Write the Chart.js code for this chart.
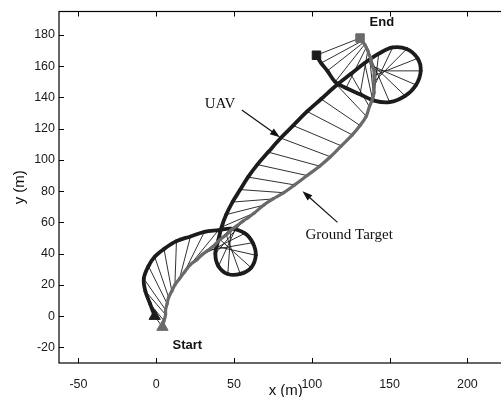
<!DOCTYPE html>
<html>
<head>
<meta charset="utf-8">
<script src="https://cdn.jsdelivr.net/npm/chart.js@4.4.0/dist/chart.umd.min.js"></script>
<style>
  html, body { margin: 0; padding: 0; background: #fff; overflow: hidden; }
  #wrap { width: 520px; height: 397px; }
</style>
</head>
<body>
<div id="wrap"><canvas id="chart" width="520" height="397"></canvas></div>
<script>
// UAV track (black) and ground target track (gray), sampled at the same instants
const uavX = [-1, -4, -7, -8, -5, -1, 5, 13, 22, 31, 40,
  48, 57, 62, 64, 61, 54, 46, 40, 38, 40, 42,
  45, 49, 54, 59, 65, 72, 80, 88, 97, 106, 116, 125, 134, 143,
  152, 161, 168, 170, 167, 160, 150, 140, 131, 122, 115, 110, 106, 103];
const uavY = [0, 8, 16, 24, 32, 38, 43, 48, 51, 54, 55,
  56, 53, 47, 39, 31, 27, 27, 32, 40, 49, 57,
  65, 73, 81, 89, 97, 105, 114, 122, 131, 139, 148, 155, 162, 168,
  172, 171, 165, 157, 148, 141, 137, 138, 142, 146, 150, 157, 162, 167];
const targetX = [4, 5, 6, 6, 7, 8, 10, 12, 15, 18, 22,
  26, 29, 33, 37, 41, 45, 48, 52, 56, 59, 63,
  69, 75, 82, 89, 97, 105, 112, 119, 126, 131, 135, 137, 139, 140,
  140, 140, 140, 140, 139, 138, 138, 137, 136, 135, 134, 133, 132, 131];
const targetY = [-7, -3, 1, 4, 8, 12, 16, 20, 24, 28, 33,
  36, 39, 42, 45, 49, 52, 55, 58, 61, 63, 66,
  71, 75, 79, 84, 90, 96, 102, 109, 116, 122, 128, 134, 139, 143,
  147, 150, 154, 157, 160, 162, 165, 167, 170, 172, 174, 175, 176, 178];

const xTicks = [-50, 0, 50, 100, 150, 200];
const yTicks = [-20, 0, 20, 40, 60, 80, 100, 120, 140, 160, 180];

// text callouts: [label, x, y]
const notes = [
  ['UAV', 41, 135.5],
  ['Ground Target', 124, 52],
];
const boldNotes = [
  ['End', 145, 188],
  ['Start', 20, -18.5],
];
// arrows: [fromX, fromY, toX, toY]
const arrows = [
  [55, 132, 79.5, 114.5],
  [116.5, 60, 94, 80],
];

const uavPts = uavX.map((x, i) => ({ x, y: uavY[i] }));
const tgtPts = targetX.map((x, i) => ({ x, y: targetY[i] }));
const links = [];
uavPts.forEach((p, i) => {
  links.push(p, tgtPts[i], { x: null, y: null });
});
const last = uavPts.length - 1;

const frame = {
  id: 'frame',
  afterDatasetsDraw(chart) {
    const { ctx, chartArea: a, scales } = chart;
    const xs = scales.x, ys = scales.y;
    ctx.save();
    ctx.strokeStyle = '#000';
    ctx.lineWidth = 1.2;
    ctx.strokeRect(a.left, a.top, a.right - a.left, a.bottom - a.top);
    ctx.beginPath();
    xTicks.forEach((v) => {
      const px = Math.round(xs.getPixelForValue(v)) + 0.5;
      ctx.moveTo(px, a.bottom); ctx.lineTo(px, a.bottom - 5);
      ctx.moveTo(px, a.top); ctx.lineTo(px, a.top + 5);
    });
    yTicks.forEach((v) => {
      const py = Math.round(ys.getPixelForValue(v)) + 0.5;
      ctx.moveTo(a.left, py); ctx.lineTo(a.left + 5, py);
      ctx.moveTo(a.right, py); ctx.lineTo(a.right - 5, py);
    });
    ctx.lineWidth = 1;
    ctx.stroke();

    // arrows
    ctx.strokeStyle = '#111';
    ctx.fillStyle = '#111';
    ctx.lineWidth = 1.2;
    arrows.forEach(([x0, y0, x1, y1]) => {
      const ax = xs.getPixelForValue(x0), ay = ys.getPixelForValue(y0);
      const bx = xs.getPixelForValue(x1), by = ys.getPixelForValue(y1);
      const ang = Math.atan2(by - ay, bx - ax);
      const len = 10, hw = 3.5;
      ctx.beginPath();
      ctx.moveTo(ax, ay);
      ctx.lineTo(bx - Math.cos(ang) * len * 0.8, by - Math.sin(ang) * len * 0.8);
      ctx.stroke();
      ctx.beginPath();
      ctx.moveTo(bx, by);
      ctx.lineTo(bx - Math.cos(ang) * len - Math.sin(ang) * hw, by - Math.sin(ang) * len + Math.cos(ang) * hw);
      ctx.lineTo(bx - Math.cos(ang) * len + Math.sin(ang) * hw, by - Math.sin(ang) * len - Math.cos(ang) * hw);
      ctx.closePath();
      ctx.fill();
    });

    ctx.textAlign = 'center';
    ctx.textBaseline = 'middle';
    ctx.font = '15px "Liberation Serif", serif';
    notes.forEach(([t, x, y]) => ctx.fillText(t, xs.getPixelForValue(x), ys.getPixelForValue(y)));
    ctx.font = 'bold 13px "Liberation Sans", Arial, sans-serif';
    boldNotes.forEach(([t, x, y]) => ctx.fillText(t, xs.getPixelForValue(x), ys.getPixelForValue(y)));
    ctx.restore();
  },
};

const tickFont = { family: '"Liberation Sans", Arial, sans-serif', size: 12.5 };
const titleFont = { family: '"Liberation Sans", Arial, sans-serif', size: 15, lineHeight: 1 };

new Chart(document.getElementById('chart'), {
  type: 'scatter',
  data: {
    datasets: [
      {
        data: links, showLine: true, borderColor: '#1a1a1a', borderWidth: 0.9,
        pointRadius: 0, spanGaps: false, order: 5,
      },
      {
        data: uavPts, showLine: true, borderColor: '#1c1c1c', borderWidth: 3.8, tension: 0.35,
        pointRadius: 1.8, pointBackgroundColor: '#1c1c1c', pointBorderWidth: 0, order: 4,
      },
      {
        data: tgtPts, showLine: true, borderColor: '#6a6a6a', borderWidth: 3.2, tension: 0.35,
        pointRadius: 1.6, pointBackgroundColor: '#6a6a6a', pointBorderWidth: 0, order: 3,
      },
      {
        data: [uavPts[0]], pointStyle: 'triangle', pointRadius: 6.5,
        pointBackgroundColor: '#1c1c1c', pointBorderColor: '#1c1c1c', order: 2,
      },
      {
        data: [tgtPts[0]], pointStyle: 'triangle', pointRadius: 6.5,
        pointBackgroundColor: '#6a6a6a', pointBorderColor: '#6a6a6a', order: 1,
      },
      {
        data: [uavPts[last]], pointStyle: 'rect', pointRadius: 6,
        pointBackgroundColor: '#1c1c1c', pointBorderColor: '#1c1c1c', order: 2,
      },
      {
        data: [tgtPts[last]], pointStyle: 'rect', pointRadius: 6,
        pointBackgroundColor: '#6a6a6a', pointBorderColor: '#6a6a6a', order: 1,
      },
    ],
  },
  options: {
    responsive: false,
    animation: false,
    devicePixelRatio: 1,
    layout: { padding: { top: 9, right: 4, left: 0, bottom: 0 } },
    plugins: { legend: { display: false }, tooltip: { enabled: false } },
    scales: {
      x: {
        type: 'linear', min: -62.5, max: 229,
        afterBuildTicks: (s) => { s.ticks = xTicks.map((v) => ({ value: v })); },
        afterFit: (s) => { s.height = 34; },
        grid: { display: false, drawTicks: false },
        border: { display: false },
        ticks: { color: '#1a1a1a', font: tickFont, padding: 14, maxRotation: 0 },
        title: { display: true, text: 'x (m)', color: '#111', font: titleFont, padding: { top: 0, bottom: -1 } },
      },
      y: {
        type: 'linear', min: -30, max: 195,
        afterBuildTicks: (s) => { s.ticks = yTicks.map((v) => ({ value: v })); },
        afterFit: (s) => { s.width = 59; },
        grid: { display: false, drawTicks: false },
        border: { display: false },
        ticks: { color: '#1a1a1a', font: tickFont, padding: 4 },
        title: { display: true, text: 'y (m)', color: '#111', font: titleFont, padding: { top: 12, bottom: 0 } },
      },
    },
  },
  plugins: [frame],
});
</script>
</body>
</html>
